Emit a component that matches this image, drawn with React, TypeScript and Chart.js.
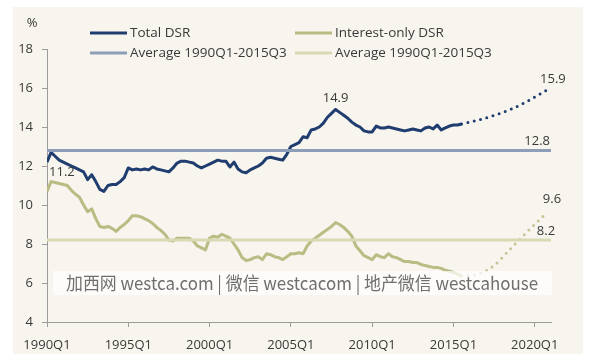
import React, { useEffect, useRef } from "react";
import { Chart, registerables } from "chart.js";

Chart.register(...registerables);

// ---------- data ----------
const startQuarter = "1990Q1";
const endQuarter = "2021Q1";
const xTickYears = [1990, 1995, 2000, 2005, 2010, 2015, 2020];

// Total DSR, quarterly from 1990Q1 to 2015Q3
const totalDSR = [
  12.2, 12.7, 12.5, 12.3, 12.2, 12.1, 12.0, 11.9, 11.8, 11.7,
  11.3, 11.55, 11.2, 10.8, 10.7, 11.0, 11.05, 11.05, 11.2, 11.4,
  11.9, 11.8, 11.85, 11.8, 11.85, 11.8, 11.95, 11.85, 11.8, 11.75,
  11.7, 11.9, 12.15, 12.25, 12.25, 12.2, 12.15, 12.0, 11.9, 12.0,
  12.1, 12.2, 12.3, 12.25, 12.25, 11.95, 12.2, 11.85, 11.7, 11.65,
  11.8, 11.9, 12.0, 12.15, 12.4, 12.45, 12.4, 12.35, 12.3, 12.6,
  13.0, 13.1, 13.2, 13.5, 13.45, 13.85, 13.9, 14.0, 14.2, 14.5,
  14.7, 14.9, 14.75, 14.6, 14.45, 14.25, 14.1, 14.0, 13.8, 13.75,
  13.75, 14.05, 13.95, 13.95, 14.0, 13.95, 13.9, 13.85, 13.8, 13.85,
  13.9, 13.85, 13.8, 13.95, 14.0, 13.9, 14.1, 13.85, 13.95, 14.05,
  14.1, 14.1, 14.15,
];

// Interest-only DSR, quarterly from 1990Q1 to 2015Q3
const interestDSR = [
  10.7, 11.2, 11.15, 11.1, 11.05, 11.0, 10.75, 10.55, 10.4, 10.0,
  9.65, 9.8, 9.3, 8.9, 8.85, 8.9, 8.8, 8.65, 8.85, 9.0,
  9.2, 9.45, 9.45, 9.4, 9.3, 9.2, 9.05, 8.85, 8.7, 8.5,
  8.2, 8.15, 8.3, 8.3, 8.3, 8.3, 8.15, 7.9, 7.8, 7.7,
  8.3, 8.4, 8.35, 8.5, 8.4, 8.3, 8.0, 7.7, 7.3, 7.15,
  7.2, 7.3, 7.35, 7.2, 7.5, 7.45, 7.35, 7.3, 7.2, 7.35,
  7.5, 7.5, 7.55, 7.5, 7.9, 8.15, 8.3, 8.45, 8.6, 8.75,
  8.9, 9.1, 9.0, 8.85, 8.65, 8.4, 7.9, 7.65, 7.4, 7.3,
  7.2, 7.45, 7.35, 7.3, 7.5, 7.35, 7.3, 7.2, 7.1, 7.1,
  7.05, 7.05, 6.95, 6.9, 6.85, 6.8, 6.8, 6.75, 6.65, 6.6,
  6.55, 6.45, 6.35,
];

// Projections (dotted)
const projQuarters = ["2015Q3", "2016Q3", "2017Q3", "2018Q3", "2019Q3", "2020Q4"];
const totalProj = [14.15, 14.35, 14.6, 14.9, 15.3, 15.9];
const interestProj = [6.35, 6.45, 6.9, 7.75, 8.6, 9.6];

// Averages 1990Q1-2015Q3
const avgQuarters = ["1990Q1", "2021Q1"];
const avgTotal = 12.8;
const avgInterest = 8.2;

const legendNames = ["Total DSR", "Interest-only DSR", "Average 1990Q1-2015Q3", "Average 1990Q1-2015Q3"];
const watermark = "加西网 westca.com | 微信 westcacom | 地产微信 westcahouse";

// ---------- helpers ----------
const qIndex = (s: string) => {
  const y = parseInt(s.slice(0, 4), 10);
  const q = parseInt(s.slice(5), 10);
  const y0 = parseInt(startQuarter.slice(0, 4), 10);
  return (y - y0) * 4 + (q - 1);
};
const seriesPts = (vals: number[]) => vals.map((v, i) => ({ x: i, y: v }));
const pairPts = (qs: string[], vals: number[]) => qs.map((q, i) => ({ x: qIndex(q), y: vals[i] }));

const FONT = "'Open Sans', 'Noto Sans', sans-serif";
const NAVY = "#1f3d6f";
const NAVY_AVG = "#8e9eb8";
const OLIVE = "#b7bd83";
const OLIVE_DOT = "#c3c797";
const OLIVE_AVG = "#d8dab4";
const TEXT = "#3a3a3a";
const AXIS = "#9c9c9c";

export default function App() {
  const ref = useRef<HTMLCanvasElement | null>(null);

  useEffect(() => {
    document.body.style.margin = "0";
    const canvas = ref.current!;

    const bgPlugin = {
      id: "bg",
      beforeDraw(chart: any) {
        const ctx = chart.ctx;
        ctx.save();
        ctx.fillStyle = "#ffffff";
        ctx.fillRect(0, 0, chart.width, chart.height);
        ctx.fillStyle = "#f8f4ee";
        ctx.fillRect(13, 7, 570, 347);
        ctx.restore();
      },
    };

    const decoPlugin = {
      id: "deco",
      afterDatasetsDraw(chart: any) {
        const ctx = chart.ctx;
        const xs = chart.scales.x;
        const ys = chart.scales.y;
        ctx.save();
        ctx.font = `13px ${FONT}`;
        ctx.fillStyle = TEXT;
        ctx.textBaseline = "middle";
        const put = (q: number, v: number, dx: number, dy: number, align: CanvasTextAlign) => {
          ctx.textAlign = align;
          ctx.fillText(v.toFixed(1), xs.getPixelForValue(q) + dx, ys.getPixelForValue(v) + dy);
        };
        put(1, interestDSR[1], -2, -9, "left");
        put(71, totalDSR[71], 0, -11, "center");
        put(qIndex(projQuarters[projQuarters.length - 1]), totalProj[totalProj.length - 1], 6, -11, "center");
        put(qIndex(avgQuarters[1]), avgTotal, -1, -9, "right");
        put(qIndex(projQuarters[projQuarters.length - 1]), interestProj[interestProj.length - 1], 5, -14, "center");
        put(qIndex(avgQuarters[1]), avgInterest, -5, -9, "center");

        // watermark
        ctx.fillStyle = "rgba(255,255,255,0.72)";
        ctx.fillRect(53, 271, 499, 24);
        ctx.fillStyle = "#6f6f6f";
        ctx.font = `18px 'Noto Sans CJK SC', 'Open Sans', sans-serif`;
        ctx.textAlign = "center";
        ctx.textBaseline = "middle";
        ctx.fillText(watermark, 302, 283, 472);
        ctx.restore();
      },
      afterDraw(chart: any) {
        const ctx = chart.ctx;
        ctx.save();
        // % unit
        ctx.fillStyle = TEXT;
        ctx.font = `13px ${FONT}`;
        ctx.textAlign = "center";
        ctx.textBaseline = "middle";
        ctx.fillText("%", 32, 23);
        // legend
        const items = [
          { name: legendNames[0], color: NAVY, x: 90, y: 33 },
          { name: legendNames[1], color: OLIVE, x: 295, y: 33 },
          { name: legendNames[2], color: NAVY_AVG, x: 90, y: 53 },
          { name: legendNames[3], color: OLIVE_AVG, x: 295, y: 53 },
        ];
        ctx.font = `13.5px ${FONT}`;
        ctx.textAlign = "left";
        items.forEach((it) => {
          ctx.strokeStyle = it.color;
          ctx.lineWidth = 3;
          ctx.beginPath();
          ctx.moveTo(it.x, it.y);
          ctx.lineTo(it.x + 37, it.y);
          ctx.stroke();
          ctx.fillStyle = TEXT;
          ctx.fillText(it.name, it.x + 40, it.y);
        });
        ctx.restore();
      },
    };

    const chart = new Chart(canvas, {
      type: "line",
      data: {
        datasets: [
          {
            label: legendNames[2],
            data: pairPts(avgQuarters, [avgTotal, avgTotal]),
            borderColor: NAVY_AVG,
            borderWidth: 3,
            pointRadius: 0,
          },
          {
            label: legendNames[3],
            data: pairPts(avgQuarters, [avgInterest, avgInterest]),
            borderColor: OLIVE_AVG,
            borderWidth: 3,
            pointRadius: 0,
          },
          {
            label: legendNames[1],
            data: seriesPts(interestDSR),
            borderColor: OLIVE,
            borderWidth: 3,
            pointRadius: 0,
            borderJoinStyle: "round",
          },
          {
            label: legendNames[1] + " (projection)",
            data: pairPts(projQuarters, interestProj),
            borderColor: OLIVE_DOT,
            borderWidth: 3,
            borderDash: [0, 6.5],
            borderCapStyle: "round",
            pointRadius: 0,
            cubicInterpolationMode: "monotone",
          },
          {
            label: legendNames[0],
            data: seriesPts(totalDSR),
            borderColor: NAVY,
            borderWidth: 3,
            pointRadius: 0,
            borderJoinStyle: "round",
          },
          {
            label: legendNames[0] + " (projection)",
            data: pairPts(projQuarters, totalProj),
            borderColor: NAVY,
            borderWidth: 3,
            borderDash: [0, 6.5],
            borderCapStyle: "round",
            pointRadius: 0,
            cubicInterpolationMode: "monotone",
          },
        ] as any,
      },
      options: {
        responsive: false,
        animation: false,
        devicePixelRatio: 1,
        layout: { padding: { top: 49, left: 0, right: 53, bottom: 0 } },
        plugins: { legend: { display: false }, tooltip: { enabled: false } },
        scales: {
          x: {
            type: "linear",
            min: 0,
            max: qIndex(endQuarter),
            afterBuildTicks(scale: any) {
              scale.ticks = xTickYears.map((y) => ({ value: qIndex(`${y}Q1`) }));
            },
            afterFit(scale: any) {
              scale.height = 40;
            },
            ticks: {
              callback: (v: any) => `${xTickYears[0] + Number(v) / 4}Q1`,
              color: TEXT,
              font: { family: FONT, size: 13 },
              padding: 10,
              maxRotation: 0,
              autoSkip: false,
            },
            grid: { drawOnChartArea: false, color: AXIS, tickLength: 5 },
            border: { color: AXIS, width: 1 },
          },
          y: {
            min: 4,
            max: 18,
            afterFit(scale: any) {
              scale.width = 47;
            },
            ticks: {
              stepSize: 2,
              color: TEXT,
              font: { family: FONT, size: 13 },
              padding: 9,
            },
            grid: { drawOnChartArea: false, color: AXIS, tickLength: 5 },
            border: { color: AXIS, width: 1 },
          },
        },
      } as any,
      plugins: [bgPlugin, decoPlugin],
    });
    return () => chart.destroy();
  }, []);

  return (
    <div style={{ width: 604, height: 362, position: "relative" }}>
      <canvas ref={ref} width={604} height={362} style={{ display: "block" }} />
    </div>
  );
}
